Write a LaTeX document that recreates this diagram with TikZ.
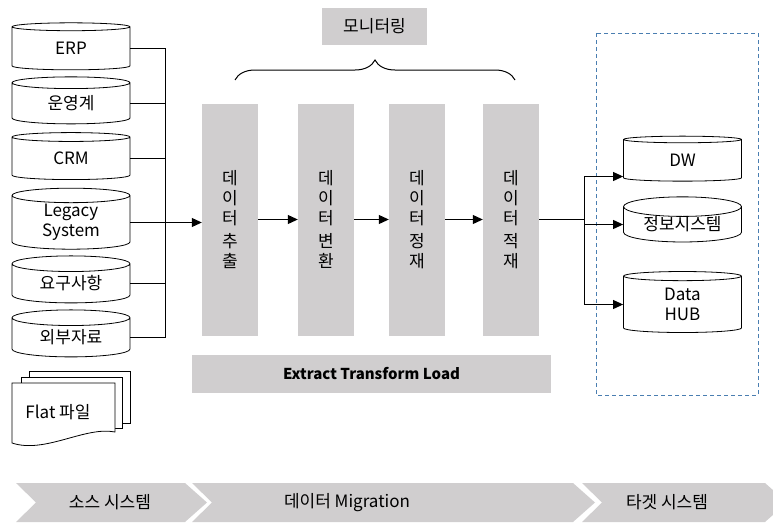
\documentclass[tikz,border=0pt]{standalone}
\usepackage{fontspec}
\setmainfont{Noto Sans CJK KR}
\usetikzlibrary{shapes.geometric,arrows.meta,decorations.pathreplacing,calc}
\definecolor{etlgray}{RGB}{208,206,207}
\definecolor{tgtblue}{RGB}{74,126,177}

\begin{document}
\begin{tikzpicture}[x=1pt,y=-1pt,
  db/.style={cylinder,shape border rotate=90,draw,aspect=0.25,minimum width=118pt,minimum height=47pt,inner sep=0pt,line width=0.8pt,fill=white,align=center},
  talldb/.style={db,minimum height=61pt},
  stage/.style={fill=etlgray,minimum width=56pt,minimum height=232pt,inner sep=0pt,align=center,font=\fontsize{17}{20}\selectfont},
  graybox/.style={fill=etlgray,inner sep=0pt},
  line/.style={line width=1pt},
  arr/.style={line,-{Triangle[length=10pt,width=9pt]}},
  every node/.append style={font=\fontsize{17}{20}\selectfont}]
\useasboundingbox (0,0) rectangle (773,522);
\newcommand{\chev}[5]{
  \fill[etlgray] (#2,483) -- (#3,483) -- (#3+22,502.5) -- (#3,522) -- (#2,522) -- (#2+20,502.5) -- cycle;
  \node (#1) at (#4,502.5) {#5};
}
% source systems
\node[db] (erp) at (71,48.5) {ERP};
\node[db] (ops) at (71,103.5) {운영계};
\node[db] (crm) at (71,158.5) {CRM};
\node[talldb] (legacy) at (71,222.5) {Legacy\\System};
\node[db] (req) at (71,283.5) {요구사항};
\node[db] (ext) at (71,337.5) {외부자료};
% flat files
\draw[line width=0.8pt,fill=white] (29,371) rectangle (130,423);
\draw[line width=0.8pt,fill=white] (21,377) rectangle (122,428);
\draw[line width=0.8pt,fill=white] (12,383) -- (115,383) -- (115,432)
  .. controls (85,426) and (45,454) .. (12,443) -- cycle;
\node (flat) at (58,412) {Flat 파일};
% ETL stages
\node[stage] (extract) at (230,219.5) {데\\이\\터\\[3pt]추\\출};
\node[stage] (transform) at (326,219.5) {데\\이\\터\\[3pt]변\\환};
\node[stage] (cleanse) at (417,219.5) {데\\이\\터\\[3pt]정\\재};
\node[stage] (load) at (511,219.5) {데\\이\\터\\[3pt]적\\재};
\node[graybox,minimum width=105pt,minimum height=37pt] (monitor) at (374.5,26.5) {모니터링};
\node[graybox,minimum width=359pt,minimum height=38pt,font=\fontsize{15}{18}\selectfont\bfseries] (etl) at (371.5,374) {Extract Transform Load};
\draw[line,decorate,decoration={brace,amplitude=20pt}] (235,80) -- (515,80);
% target systems
\draw[tgtblue,line width=0.9pt,dash pattern=on 4pt off 3pt] (596,33) rectangle (758,395);
\node[db,minimum height=45pt] (dw) at (682.5,160.5) {DW};
\node[db,minimum height=45pt] (info) at (682.5,224.5) {정보시스템};
\node[talldb] (hub) at (682.5,304.5) {Data\\HUB};
% connectors
\coordinate (bus) at (165,0);
\foreach \n in {erp,ops,crm,req,ext} { \draw[line] (\n.east) -- (\n.east -| bus); }
\draw[line] (bus |- erp.east) -- (bus |- ext.east);
\draw[arr] (legacy.east) -- (legacy.east -| extract.west);
\draw[arr] (extract.east) -- (transform.west);
\draw[arr] (transform.east) -- (cleanse.west);
\draw[arr] (cleanse.east) -- (load.west);
\coordinate (tbus) at (584,0);
\draw[line] (load.east) -- (load.east -| tbus);
\draw[line] ([yshift=-16pt]tbus |- dw.west) -- (tbus |- hub.west);
\draw[arr] ([yshift=-16pt]tbus |- dw.west) -- ([yshift=-16pt]dw.west);
\draw[arr] (tbus |- info.west) -- (info.west);
\draw[arr] (tbus |- hub.west) -- (hub.west);
% phases
\chev{src}{16}{185}{110}{소스 시스템}
\chev{mig}{192}{573}{347}{데이터 Migration}
\chev{tgt}{582}{765}{667}{타겟 시스템}
\end{tikzpicture}
\end{document}
